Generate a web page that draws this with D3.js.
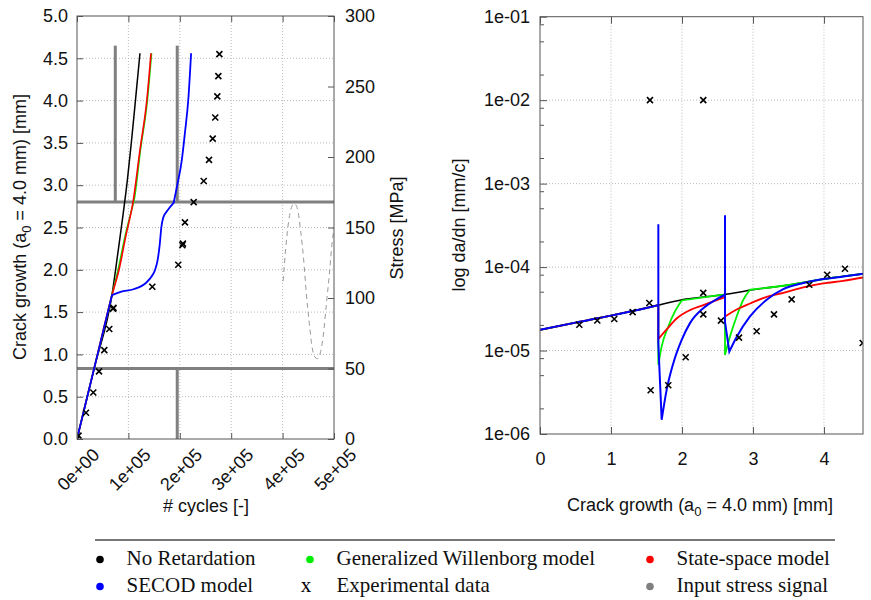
<!DOCTYPE html>
<html lang="en">
<head>
  <meta charset="UTF-8">
  <title>Crack growth</title>
  <script src="https://cdn.jsdelivr.net/npm/d3@7"></script>
  <style>
    body { margin: 0; background: #fff; }
    text { font-family: "Liberation Sans", Arial, sans-serif; }
  </style>
</head>
<body>
  <svg id="svg" width="871" height="600"></svg>
  <script>
    // ---- left panel: crack growth vs cycles ----
    var cycleTicks = [0, 1e5, 2e5, 3e5, 4e5, 5e5]
    var cycleTickLabels = ["0e+00", "1e+05", "2e+05", "3e+05", "4e+05", "5e+05"]
    var crackTicks = [0, 0.5, 1, 1.5, 2, 2.5, 3, 3.5, 4, 4.5, 5]
    var stressTicks = [0, 50, 100, 150, 200, 250, 300]

    var noRetCycles = [0, 34e3, 68e3, 80e3, 90e3, 98e3, 106e3, 114e3, 122.5e3]
    var noRetCrack = [0, 0.85, 1.70, 2.22, 2.67, 3.06, 3.52, 4.02, 4.56]
    var willCycles = [0, 34e3, 68e3, 80e3, 94e3, 106e3, 111e3, 123.5e3, 137e3, 145e3]
    var willCrack = [0, 0.85, 1.70, 2.0, 2.41, 2.70, 2.82, 3.42, 4.01, 4.56]
    var ssCycles = [0, 34e3, 68e3, 81.7e3, 95.3e3, 109e3, 122.6e3, 136e3, 144e3]
    var ssCrack = [0, 0.85, 1.70, 2.0, 2.41, 2.80, 3.42, 4.01, 4.56]
    var secodCycles = [0, 34e3, 68e3, 85e3, 110e3, 135e3, 145e3, 152e3, 157e3, 161e3, 164e3, 168e3, 176e3, 188e3, 195e3, 204e3, 210e3, 216.5e3, 222e3]
    var secodCrack = [0, 0.85, 1.70, 1.74, 1.77, 1.85, 1.92, 2.0, 2.12, 2.3, 2.5, 2.62, 2.70, 2.79, 3.0, 3.3, 3.62, 4.01, 4.56]
    var expCycles = [0, 3e3, 17.5e3, 31.7e3, 42.8e3, 53.1e3, 62.8e3, 70e3, 71e3, 146.5e3, 197e3, 205e3, 206e3, 210e3, 227e3, 246.5e3, 256.8e3, 264e3, 269e3, 273e3, 275e3, 277e3]
    var expCrack = [0, 0.04, 0.31, 0.55, 0.80, 1.05, 1.30, 1.54, 1.55, 1.80, 2.06, 2.29, 2.31, 2.56, 2.80, 3.05, 3.30, 3.55, 3.80, 4.05, 4.29, 4.55]

    // input stress signal [MPa]
    var stressLevels = [50, 168]
    var overloadCycles = [74.5e3, 195e3]
    var overloadPeak = [279, 279]
    var underloadCycles = [195e3]
    var underloadValley = [0]
    var sineCycles = [401e3, 406e3, 412e3, 418e3, 423e3, 429e3, 435e3, 441e3, 446e3, 452e3, 457e3, 463e3, 468e3, 474e3, 480e3, 485e3, 491e3, 496e3, 500e3]
    var sineStress = [112, 135, 155, 165, 167, 163, 148, 127, 104, 82, 66, 58, 57, 62, 76, 95, 117, 138, 150]

    // ---- right panel: da/dn vs crack growth ----
    var growthTicks = [0, 1, 2, 3, 4]
    var rateTicks = [1e-1, 1e-2, 1e-3, 1e-4, 1e-5, 1e-6]
    var rateTickLabels = ["1e-01", "1e-02", "1e-03", "1e-04", "1e-05", "1e-06"]
    var rateMinor = [8, 5, 2]

    var baseX = [0, 0.5, 1, 1.5, 1.667, 2, 2.5, 2.606, 3, 3.5, 4, 4.55]
    var baseRate = [1.77e-5, 2.16e-5, 2.62e-5, 3.24e-5, 3.5e-5, 4.06e-5, 4.57e-5, 4.7e-5, 5.34e-5, 6.1e-5, 7.2e-5, 8.3e-5]
    var willX = [0, 0.5, 1, 1.5, 1.667, 1.667, 1.714, 1.807, 1.901, 1.996, 2.5, 2.606, 2.606, 2.676, 2.770, 2.864, 2.958, 3.5, 4, 4.55]
    var willRate = [1.77e-5, 2.16e-5, 2.62e-5, 3.24e-5, 3.5e-5, 6.74e-6, 1.12e-5, 1.94e-5, 2.94e-5, 3.98e-5, 4.57e-5, 4.7e-5, 8.85e-6, 1.47e-5, 2.56e-5, 4.06e-5, 5.35e-5, 6.1e-5, 7.2e-5, 8.3e-5]
    var ssX = [0, 0.5, 1, 1.5, 1.667, 1.667, 1.784, 1.925, 2.113, 2.300, 2.489, 2.606, 2.606, 2.770, 2.958, 3.193, 3.427, 3.709, 3.990, 4.272, 4.55]
    var ssRate = [1.77e-5, 2.16e-5, 2.62e-5, 3.24e-5, 3.5e-5, 1.37e-5, 1.79e-5, 2.42e-5, 3.05e-5, 3.50e-5, 4.02e-5, 4.37e-5, 2.56e-5, 3.1e-5, 3.66e-5, 4.4e-5, 4.91e-5, 5.7e-5, 6.37e-5, 6.84e-5, 7.5e-5]
    var secodX = [0, 0.5, 1, 1.5, 1.667, 1.667, 1.667, 1.714, 1.784, 1.878, 1.996, 2.113, 2.300, 2.489, 2.606, 2.606, 2.606, 2.667, 2.770, 2.958, 3.193, 3.427, 3.709, 3.990, 4.272, 4.55]
    var secodRate = [1.77e-5, 2.16e-5, 2.62e-5, 3.24e-5, 3.5e-5, 3.27e-4, 1.2e-5, 1.48e-6, 3.38e-6, 7.06e-6, 1.34e-5, 2.13e-5, 3.22e-5, 4.13e-5, 4.66e-5, 4.19e-4, 2.2e-5, 9.7e-6, 1.45e-5, 2.56e-5, 4.06e-5, 5.44e-5, 6.43e-5, 7.18e-5, 7.71e-5, 8.3e-5]
    var expX = [0.554, 0.807, 1.046, 1.305, 1.540, 1.549, 1.559, 1.807, 2.052, 2.300, 2.300, 2.300, 2.549, 2.803, 3.052, 3.296, 3.545, 3.793, 4.046, 4.296, 4.545]
    var expRate = [2.04e-5, 2.29e-5, 2.39e-5, 2.89e-5, 3.71e-5, 1e-2, 3.34e-6, 3.84e-6, 8.32e-6, 4.91e-5, 2.71e-5, 1e-2, 2.28e-5, 1.43e-5, 1.70e-5, 2.71e-5, 4.1e-5, 6.15e-5, 8.1e-5, 9.55e-5, 1.23e-5]

    var legendNames = ["No Retardation", "Generalized Willenborg model", "State-space model", "SECOD model", "Experimental data", "Input stress signal"]
    var legendColors = ["#000", "#00ee00", "#ff0000", "#0000ff", null, "#808080"]

    var svg = d3.select('#svg')
    var frameColor = '#555', gridColor = '#bbb'

    // series -> path; jumps (same x) are straight, sharp bends become corners
    function pathOf(xs, ys, sx, sy) {
      var pts = xs.map((x, i) => [sx(x), sy(ys[i])])
      var out = [], cur = [pts[0]]
      for (var i = 1; i < pts.length; i++) {
        var p = pts[i], prev = cur[cur.length - 1]
        if (p[0] <= prev[0] + 1e-6) { out.push(cur); cur = [p]; continue }
        if (cur.length > 1) {
          var q = cur[cur.length - 2]
          var s0 = (prev[1] - q[1]) / (prev[0] - q[0]), s1 = (p[1] - prev[1]) / (p[0] - prev[0])
          if (s0 * s1 <= 0 || Math.abs(s0 / s1) > 4 || Math.abs(s1 / s0) > 4) {
            out.push(cur); cur = [prev, p]; continue
          }
        }
        cur.push(p)
      }
      out.push(cur)
      var line = d3.line().curve(d3.curveMonotoneX)
      return out.map((r, i) => {
        if (r.length === 1) return (i ? 'L' : 'M') + r[0][0] + ',' + r[0][1]
        var s = line(r)
        return i ? 'L' + s.slice(1) : s
      }).join('')
    }
    function cross(g, pts, sx, sy) {
      g.selectAll(null).data(pts).enter().append('path')
        .attr('d', d => {
          var x = sx(d[0]), y = sy(d[1]), r = 3
          return `M${x - r},${y - r}L${x + r},${y + r}M${x - r},${y + r}L${x + r},${y - r}`
        })
        .attr('stroke', '#000').attr('stroke-width', 1.6)
    }
    function styleAxis(g) {
      g.select('.domain').remove()
      g.selectAll('line').attr('stroke', frameColor)
      g.selectAll('text').attr('font-size', 18).attr('fill', '#111')
        .style('font-family', '"Liberation Sans", Arial, sans-serif')
    }

    // ================= left panel =================
    var xL = d3.scaleLinear().domain([0, 5e5]).range([77, 334])
    var yL = d3.scaleLinear().domain([0, 5]).range([439, 16])
    var yS = d3.scaleLinear().domain([0, 300]).range([439, 16])

    svg.append('clipPath').attr('id', 'clipL').append('rect')
      .attr('x', 77).attr('y', 16).attr('width', 257).attr('height', 423)

    var gridL = svg.append('g').attr('stroke', gridColor).attr('stroke-dasharray', '1,2')
    gridL.selectAll(null).data(cycleTicks.slice(1, -1)).enter().append('line')
      .attr('x1', d => xL(d)).attr('x2', d => xL(d)).attr('y1', 16).attr('y2', 439)
    gridL.selectAll(null).data(crackTicks.slice(1, -1)).enter().append('line')
      .attr('x1', 77).attr('x2', 334).attr('y1', d => yL(d)).attr('y2', d => yL(d))

    var plotL = svg.append('g').attr('clip-path', 'url(#clipL)')
    // stress signal
    var sig = plotL.append('g').attr('stroke', '#808080').attr('stroke-width', 3)
    sig.selectAll(null).data(stressLevels).enter().append('line')
      .attr('x1', xL(0)).attr('x2', xL(5e5)).attr('y1', d => yS(d)).attr('y2', d => yS(d))
    sig.selectAll(null).data(overloadCycles).enter().append('line')
      .attr('x1', d => xL(d)).attr('x2', d => xL(d))
      .attr('y1', yS(stressLevels[1])).attr('y2', (d, i) => yS(overloadPeak[i]))
    sig.selectAll(null).data(underloadCycles).enter().append('line')
      .attr('x1', d => xL(d)).attr('x2', d => xL(d))
      .attr('y1', yS(stressLevels[0])).attr('y2', (d, i) => yS(underloadValley[i]))
    plotL.append('path')
      .attr('d', d3.line().x(d => xL(d)).y((d, i) => yS(sineStress[i])).curve(d3.curveMonotoneX)(sineCycles))
      .attr('fill', 'none').attr('stroke', '#999').attr('stroke-width', 1).attr('stroke-dasharray', '5,4')

    var curvesL = [
      [noRetCycles, noRetCrack, '#000', 1.5],
      [willCycles, willCrack, '#00ee00', 1.6],
      [ssCycles, ssCrack, '#ff0000', 1.6],
      [secodCycles, secodCrack, '#0000ff', 1.8]
    ]
    curvesL.forEach(c => {
      plotL.append('path').attr('d', pathOf(c[0], c[1], xL, yL))
        .attr('fill', 'none').attr('stroke', c[2]).attr('stroke-width', c[3])
    })
    cross(plotL, expCycles.map((d, i) => [d, expCrack[i]]), xL, yL)

    svg.append('rect').attr('x', 77).attr('y', 16).attr('width', 257).attr('height', 423)
      .attr('fill', 'none').attr('stroke', frameColor)

    var axL = svg.append('g').attr('transform', 'translate(77,0)')
      .call(d3.axisLeft(yL).tickValues(crackTicks).tickFormat(d3.format('.1f')).tickSize(-6).tickPadding(9))
    styleAxis(axL)
    var axS = svg.append('g').attr('transform', 'translate(334,0)')
      .call(d3.axisRight(yS).tickValues(stressTicks).tickSize(-6).tickPadding(11))
    styleAxis(axS)
    var axB = svg.append('g').attr('transform', 'translate(0,439)')
      .call(d3.axisBottom(xL).tickValues(cycleTicks).tickFormat((d, i) => cycleTickLabels[i]).tickSize(-6))
    styleAxis(axB)
    axB.selectAll('text').attr('text-anchor', 'end').attr('x', 23).attr('y', 17).attr('dy', 0)
      .attr('transform', 'rotate(-45,23,17)')
    var axT = svg.append('g').attr('transform', 'translate(0,16)')
      .call(d3.axisTop(xL).tickValues(cycleTicks).tickFormat('').tickSize(-6))
    styleAxis(axT)

    var t1 = svg.append('text').attr('transform', 'translate(26,227) rotate(-90)')
      .attr('text-anchor', 'middle').attr('font-size', 18).attr('fill', '#111')
    t1.append('tspan').text('Crack growth (a')
    t1.append('tspan').attr('dy', 5).attr('font-size', 13).text('0')
    t1.append('tspan').attr('dy', -5).text(' = 4.0 mm) [mm]')
    svg.append('text').attr('transform', 'translate(403,228) rotate(-90)')
      .attr('text-anchor', 'middle').attr('font-size', 18).attr('fill', '#111').text('Stress [MPa]')
    svg.append('text').attr('x', 206).attr('y', 512).attr('text-anchor', 'middle')
      .attr('font-size', 18).attr('fill', '#111').text('# cycles [-]')

    // ================= right panel =================
    var xR = d3.scaleLinear().domain([0, 4.55]).range([540, 863])
    var yR = d3.scaleLog().domain([1e-6, 1e-1]).range([434, 16.7])

    svg.append('clipPath').attr('id', 'clipR').append('rect')
      .attr('x', 540).attr('y', 16.7).attr('width', 323).attr('height', 417.3)

    var gridR = svg.append('g').attr('stroke', gridColor).attr('stroke-dasharray', '1,2')
    gridR.selectAll(null).data(growthTicks.slice(1)).enter().append('line')
      .attr('x1', d => xR(d)).attr('x2', d => xR(d)).attr('y1', 16.7).attr('y2', 434)
    gridR.selectAll(null).data(rateTicks.slice(1, -1)).enter().append('line')
      .attr('x1', 540).attr('x2', 863).attr('y1', d => yR(d)).attr('y2', d => yR(d))

    var plotR = svg.append('g').attr('clip-path', 'url(#clipR)')
    var curvesR = [
      [baseX, baseRate, '#000', 1.6],
      [willX, willRate, '#00ee00', 1.8],
      [ssX, ssRate, '#ff0000', 1.8],
      [secodX, secodRate, '#0000ff', 2]
    ]
    curvesR.forEach(c => {
      plotR.append('path').attr('d', pathOf(c[0], c[1], xR, yR))
        .attr('fill', 'none').attr('stroke', c[2]).attr('stroke-width', c[3])
    })
    cross(plotR, expX.map((d, i) => [d, expRate[i]]), xR, yR)

    svg.append('rect').attr('x', 540).attr('y', 16.7).attr('width', 323).attr('height', 417.3)
      .attr('fill', 'none').attr('stroke', frameColor)

    var axRL = svg.append('g').attr('transform', 'translate(540,0)')
      .call(d3.axisLeft(yR).tickValues(rateTicks).tickFormat((d, i) => rateTickLabels[i]).tickSize(-7).tickPadding(10))
    styleAxis(axRL)
    var minorVals = []
    rateTicks.slice(1).forEach(d => rateMinor.forEach(m => minorVals.push(d * m)))
    svg.append('g').selectAll(null).data(minorVals).enter().append('line')
      .attr('x1', 540).attr('x2', 544).attr('y1', d => yR(d)).attr('y2', d => yR(d))
      .attr('stroke', frameColor)
    var axRB = svg.append('g').attr('transform', 'translate(0,434)')
      .call(d3.axisBottom(xR).tickValues(growthTicks).tickFormat(d3.format('d')).tickSize(-7))
    styleAxis(axRB)
    axRB.selectAll('text').attr('y', 31).attr('dy', 0)
    var axRT = svg.append('g').attr('transform', 'translate(0,16.7)')
      .call(d3.axisTop(xR).tickValues(growthTicks).tickFormat('').tickSize(-7))
    styleAxis(axRT)

    svg.append('text').attr('transform', 'translate(465,225) rotate(-90)')
      .attr('text-anchor', 'middle').attr('font-size', 18).attr('fill', '#111').text('log da/dn [mm/c]')
    var t2 = svg.append('text').attr('x', 700).attr('y', 511).attr('text-anchor', 'middle')
      .attr('font-size', 18).attr('fill', '#111')
    t2.append('tspan').text('Crack growth (a')
    t2.append('tspan').attr('dy', 5).attr('font-size', 13).text('0')
    t2.append('tspan').attr('dy', -5).text(' = 4.0 mm) [mm]')

    // ================= legend =================
    svg.append('line').attr('x1', 95).attr('x2', 835).attr('y1', 540).attr('y2', 540)
      .attr('stroke', '#777').attr('stroke-width', 2)
    var colX = [100, 310, 650], rowY = [565, 592]
    var leg = svg.append('g').selectAll(null).data(legendNames).enter().append('g')
      .attr('transform', (d, i) => `translate(${colX[i % 3]},${rowY[Math.floor(i / 3)]})`)
    leg.filter((d, i) => legendColors[i]).append('circle')
      .attr('cx', 0).attr('cy', -5.5).attr('r', 3.8).attr('fill', (d, i) => legendColors[legendNames.indexOf(d)])
    leg.filter((d, i) => !legendColors[i]).append('text')
      .attr('x', -4).attr('text-anchor', 'middle').attr('font-size', 21)
      .style('font-family', '"Liberation Serif", "Times New Roman", serif').text('x')
    leg.append('text').attr('x', 26.5).attr('font-size', 21).attr('fill', '#111')
      .style('font-family', '"Liberation Serif", "Times New Roman", serif').text(d => d)
  </script>
</body>
</html>
